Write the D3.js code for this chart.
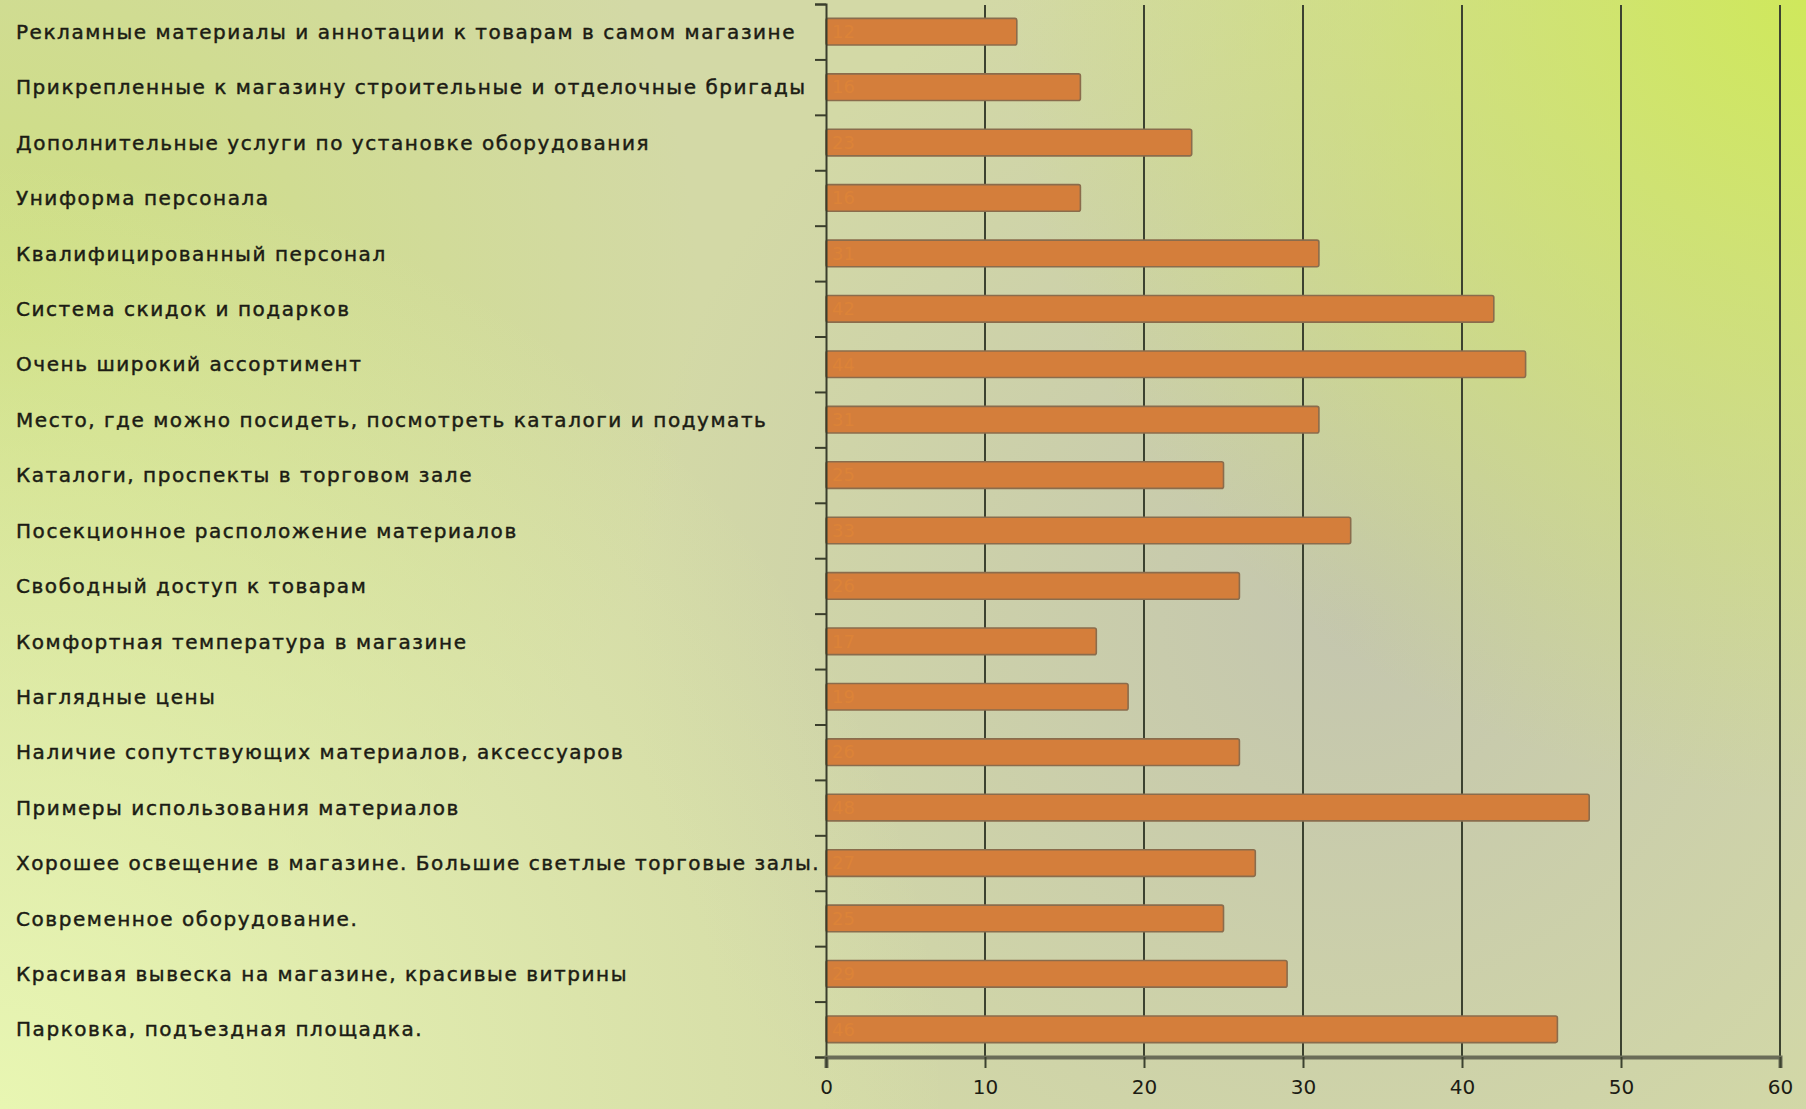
<!DOCTYPE html>
<html lang="ru">
<head>
<meta charset="utf-8">
<script src="https://cdn.jsdelivr.net/npm/d3@7/dist/d3.min.js"></script>
<style>
  html, body { margin: 0; padding: 0; overflow: hidden; }
  svg { display: block; }
  text { font-family: "DejaVu Sans", sans-serif; fill: #1c1c14; }
</style>
</head>
<body>
<svg id="chart" width="1806" height="1109"></svg>
<script>
// Survey factors (top to bottom) and their scores
const categories = [
  "Рекламные материалы и аннотации к товарам в самом магазине",
  "Прикрепленные к магазину строительные и отделочные бригады",
  "Дополнительные услуги по установке оборудования",
  "Униформа персонала",
  "Квалифицированный персонал",
  "Система скидок и подарков",
  "Очень широкий ассортимент",
  "Место, где можно посидеть, посмотреть каталоги и подумать",
  "Каталоги, проспекты в торговом зале",
  "Посекционное расположение материалов",
  "Свободный доступ к товарам",
  "Комфортная температура в магазине",
  "Наглядные цены",
  "Наличие сопутствующих материалов, аксессуаров",
  "Примеры использования материалов",
  "Хорошее освещение в магазине. Большие светлые торговые залы.",
  "Современное оборудование.",
  "Красивая вывеска на магазине, красивые витрины",
  "Парковка, подъездная площадка."
];
const values = [12, 16, 23, 16, 31, 42, 44, 31, 25, 33, 26, 17, 19, 26, 48, 27, 25, 29, 46];
const xTicks = [0, 10, 20, 30, 40, 50, 60];

const W = 1806, H = 1109;
const plot = { left: 826, right: 1780, top: 4, bottom: 1057 };

const svg = d3.select("#chart");
const defs = svg.append("defs");

// Soft multi-tone backdrop: lime top-right, pale yellow-green bottom-left, greyish middle
function radial(id, cx, cy, r, color, opacity) {
  const g = defs.append("radialGradient")
    .attr("id", id).attr("gradientUnits", "userSpaceOnUse")
    .attr("cx", cx).attr("cy", cy).attr("r", r);
  g.append("stop").attr("offset", 0).attr("stop-color", color).attr("stop-opacity", opacity);
  g.append("stop").attr("offset", 1).attr("stop-color", color).attr("stop-opacity", 0);
}
radial("bgGrey", 1350, 620, 720, "#c4c6ae", 1);
radial("bgLime", 1806, 0, 800, "#cfe85c", 1);
radial("bgPale", 0, 1109, 950, "#e8f6b2", 1);
radial("bgTopLeft", 0, 300, 700, "#cddf7e", 0.9);

svg.append("rect").attr("width", W).attr("height", H).attr("fill", "#d3d9a6");
["bgGrey", "bgTopLeft", "bgPale", "bgLime"].forEach(id =>
  svg.append("rect").attr("width", W).attr("height", H).attr("fill", `url(#${id})`));

const x = d3.scaleLinear().domain([0, 60]).range([plot.left, plot.right]);
const y = d3.scaleBand().domain(categories).range([plot.top, plot.bottom])
  .paddingInner(0.52).paddingOuter(0.26);

// Vertical gridlines
svg.append("g").selectAll("line").data(xTicks.filter(d => d > 0)).join("line")
  .attr("x1", d => x(d)).attr("x2", d => x(d))
  .attr("y1", plot.top + 1).attr("y2", plot.bottom)
  .attr("stroke", "#3c4230").attr("stroke-width", 2);

// Bars
const bars = svg.append("g");
bars.selectAll("rect").data(values).join("rect")
  .attr("x", x(0))
  .attr("y", (d, i) => y(categories[i]))
  .attr("width", d => x(d) - x(0))
  .attr("height", y.bandwidth())
  .attr("rx", 2)
  .attr("fill", "#d47e3b")
  .attr("stroke", "#8a6c4c")
  .attr("stroke-width", 1.6);

// Faint value labels at the start of each bar
bars.selectAll("text").data(values).join("text")
  .attr("x", x(0) + 6)
  .attr("y", (d, i) => y(categories[i]) + y.bandwidth() / 2)
  .attr("dy", "0.35em")
  .attr("font-size", 18)
  .style("fill", "#dc8338")
  .text(d => d);

// Category axis (left)
const yAxis = d3.axisLeft(d3.scaleLinear().domain([0, categories.length]).range([plot.top, plot.bottom]))
  .tickValues(d3.range(categories.length + 1)).tickSize(11).tickFormat("");
const yg = svg.append("g").attr("transform", `translate(${x(0)},0)`).call(yAxis);
yg.select(".domain").attr("stroke", "#3a3e2c").attr("stroke-width", 2);
yg.selectAll(".tick line").attr("stroke", "#3a3e2c").attr("stroke-width", 2);

// Category labels, left aligned
svg.append("g").selectAll("text").data(categories).join("text")
  .attr("x", 16)
  .attr("y", d => y(d) + y.bandwidth() / 2)
  .attr("dy", "0.36em")
  .attr("font-size", 20)
  .attr("letter-spacing", 1.55)
  .style("stroke", "#1c1c14")
  .style("stroke-width", 0.45)
  .text(d => d);

// Value axis (bottom)
const xAxis = d3.axisBottom(x).tickValues(xTicks).tickSize(11).tickPadding(12).tickFormat(d3.format("d"));
const xg = svg.append("g").attr("transform", `translate(0,${plot.bottom})`).call(xAxis);
xg.select(".domain").attr("stroke", "#6a6c58").attr("stroke-width", 4);
xg.selectAll(".tick line").attr("stroke", "#3c4230").attr("stroke-width", 2);
xg.selectAll(".tick text").attr("font-size", 20).style("fill", "#1c1c14");
</script>
</body>
</html>
